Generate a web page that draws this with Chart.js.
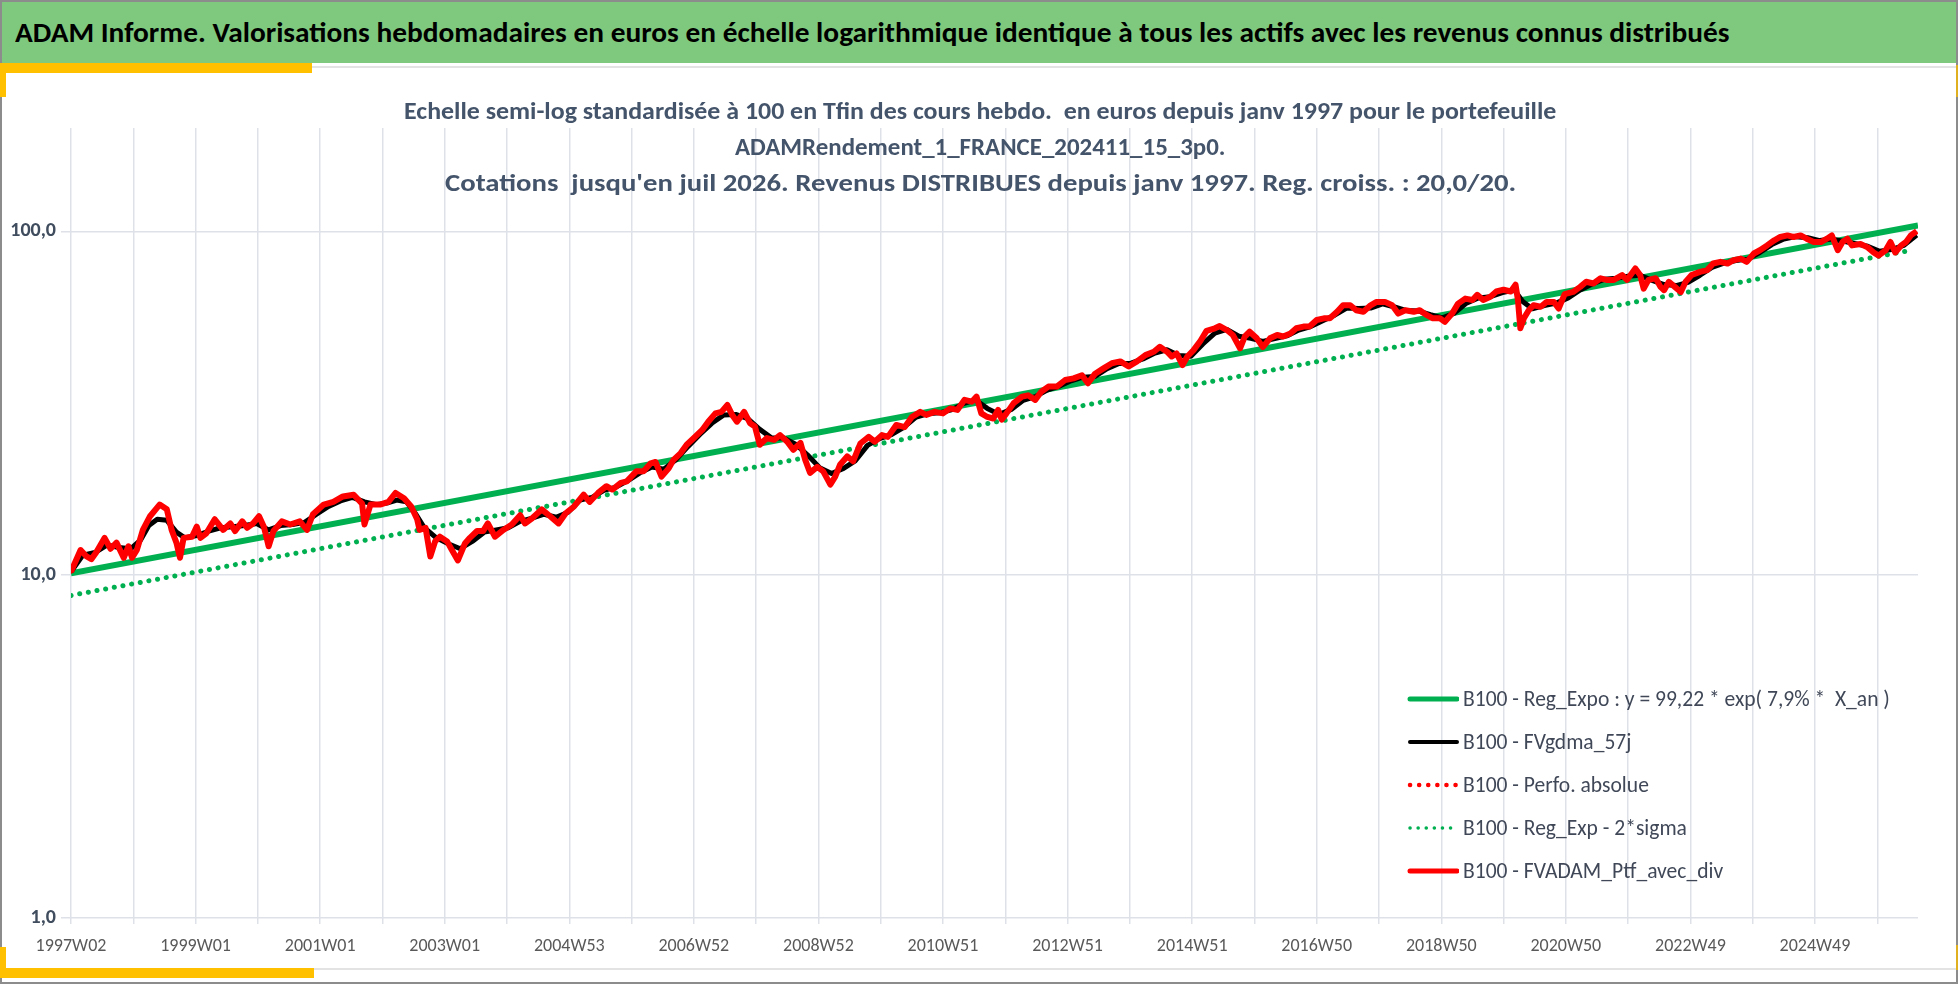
<!DOCTYPE html>
<html>
<head>
<meta charset="utf-8">
<script src="https://cdn.jsdelivr.net/npm/chart.js@4.4.1/dist/chart.umd.min.js"></script>
<style>
    body { margin: 0; width: 1958px; height: 984px; position: relative; overflow: hidden; background: #fff; }
    .f { font-family: Carlito, 'Liberation Sans Narrow', 'DejaVu Sans Condensed', 'Liberation Sans', sans-serif; }
    .abs { position: absolute; }
    .txt { position: absolute; white-space: pre; display: inline-block; line-height: 1; }
    #banner { left: 0; top: 0; width: 1958px; height: 63px; background: #7FC97F; border-top: 2px solid #8c8c8c; box-sizing: border-box; }
    .ttl { color: #44546A; font-weight: bold; font-size: 24px; }
    .leg { color: #404858; font-size: 22px; }
</style>
</head>
<body>
<div id="banner" class="abs"></div>
<span id="bannerText" class="txt f" style="left:15px;top:18px;font-size:29px;font-weight:bold;color:#000">ADAM Informe. Valorisations hebdomadaires en euros en échelle logarithmique identique à tous les actifs avec les revenus connus distribués</span>

<!-- frame -->
<div class="abs" style="left:0;top:66px;width:1958px;height:2px;background:#e3e3e3"></div>
<div class="abs" style="left:0;top:968px;width:1958px;height:2px;background:#e3e3e3"></div>
<div class="abs" style="left:0;top:0;width:2px;height:984px;background:#8c8c8c"></div>
<div class="abs" style="right:0;top:0;width:2px;height:984px;background:#8c8c8c"></div>
<div class="abs" style="left:0;bottom:0;width:1958px;height:2px;background:#8c8c8c"></div>
<div class="abs" style="left:0;top:63px;width:312px;height:10px;background:#FFC000"></div>
<div class="abs" style="left:0;top:63px;width:6px;height:34px;background:#FFC000"></div>
<div class="abs" style="left:0;top:968px;width:314px;height:10px;background:#FFC000"></div>
<div class="abs" style="left:0;top:947px;width:6px;height:31px;background:#FFC000"></div>
<div class="abs" style="right:0;top:65px;width:2px;height:32px;background:#E0B020"></div>
<div class="abs" style="right:0;top:945px;width:2px;height:25px;background:#E0B020"></div>

<canvas id="chart" width="1958" height="984" style="position:absolute;left:0;top:0"></canvas>

<span id="t1" class="txt f ttl">Echelle semi-log standardisée à 100 en Tfin des cours hebdo.  en euros depuis janv 1997 pour le portefeuille</span>
<span id="t2" class="txt f ttl">ADAMRendement_1_FRANCE_202411_15_3p0.</span>
<span id="t3" class="txt f ttl">Cotations  jusqu'en juil 2026. Revenus DISTRIBUES depuis janv 1997. Reg. croiss. : 20,0/20.</span>

<div id="legend"></div>

<script>
    "use strict";

    // week index 0 = 1997W02
    const tickLabels = ['1997W02', '1999W01', '2001W01', '2003W01', '2004W53', '2006W52', '2008W52', '2010W51',
        '2012W51', '2014W51', '2016W50', '2018W50', '2020W50', '2022W49', '2024W49'];
    const yTicks = [1, 10, 100];
    const lastWeek = 1542;

    const seriesNames = ['B100 - Reg_Expo : y = 99,22 * exp( 7,9% *  X_an )', 'B100 - FVgdma_57j', 'B100 - Perfo. absolue',
        'B100 - Reg_Exp - 2*sigma', 'B100 - FVADAM_Ptf_avec_div'];

    const regWeeks = [0, 1542];
    const regValues = [10.1, 104.0];

    const sigmaWeeks = [0, 1537];
    const sigmaValues = [8.7, 88.2];

    const redWeeks = [0, 8, 13, 17, 21, 28, 33, 38, 44, 48, 51, 55, 60, 66, 74, 80, 84, 88, 91, 94, 101, 105, 108, 113, 120, 127, 133, 137, 143, 147,
        152, 157, 161, 165, 169, 176, 183, 191, 197, 202, 211, 219, 227, 236, 243, 245, 250, 258, 265, 271, 278, 284, 289, 291, 296, 300, 304, 308, 314, 318, 323,
        329, 333, 339, 344, 348, 354, 361, 368, 375, 379, 385, 393, 400, 407, 413, 420, 428, 433, 440, 447, 452, 459, 464, 472, 478, 484, 488, 493, 499, 503,
        509, 514, 520, 527, 532, 538, 543, 548, 552, 556, 562, 567, 571, 575, 581, 587, 592, 598, 603, 609, 613, 617, 623, 628, 634, 638, 642,
        648, 653, 659, 666, 671, 677, 682, 689, 696, 702, 709, 714, 721, 728, 734, 740, 746, 752, 756, 760, 765, 770, 774, 777, 781, 787, 794, 799, 805, 810,
        816, 823, 830, 837, 844, 849, 855, 862, 869, 876, 883, 890, 897, 904, 909, 915, 919, 923, 928, 932, 937, 943, 948, 955, 959,
        965, 970, 976, 980, 984, 990, 995, 1001, 1007, 1012, 1018, 1023, 1029, 1034, 1040, 1046, 1051, 1057, 1062, 1068, 1073, 1079, 1085, 1090, 1097, 1103, 1108, 1114, 1121, 1126,
        1132, 1137, 1143, 1147, 1153, 1158, 1164, 1170, 1174, 1179, 1185, 1190, 1196, 1202, 1206, 1208, 1210, 1213, 1217, 1221, 1227, 1232, 1238, 1242,
        1247, 1254, 1260, 1265, 1271, 1277, 1282, 1288, 1295, 1299, 1306, 1310, 1313, 1317, 1323, 1327, 1330, 1334, 1339, 1344, 1348, 1353, 1360, 1366, 1371, 1377, 1383, 1388, 1394, 1399,
        1405, 1410, 1416, 1422, 1427, 1433, 1438, 1444, 1449, 1455, 1461, 1466, 1470, 1475, 1479, 1483, 1487, 1494, 1500, 1505, 1509, 1515, 1519, 1523, 1528, 1532, 1536, 1541];
    const redValues = [10.2, 11.8, 11.3, 11.1, 11.6, 12.8, 11.9, 12.4, 11.2, 12.1, 11.2, 11.8, 13.5, 14.8, 16.0, 15.5, 13.5, 12.4, 11.2, 12.8, 12.9, 13.8, 12.8, 13.2, 14.5, 13.5, 14.1, 13.4, 14.3, 13.7,
        14.1, 14.8, 13.8, 12.1, 13.4, 14.3, 14.0, 14.3, 13.5, 15.0, 16.0, 16.3, 16.9, 17.1, 16.1, 14.0, 16.0, 16.0, 16.3, 17.3, 16.7, 15.8, 14.5, 13.5, 13.7, 11.3, 12.5, 12.9, 12.5, 11.8, 11.0,
        12.35, 12.8, 13.4, 13.4, 14.1, 12.9, 13.5, 14.0, 14.9, 14.1, 14.6, 15.5, 14.8, 14.1, 15.1, 15.8, 17.1, 16.3, 17.3, 18.1, 17.7, 18.5, 18.7, 20.0, 20.0, 21.1, 21.3, 19.3, 20.4, 21.6,
        22.6, 23.9, 25.0, 26.4, 27.9, 29.5, 29.8, 31.2, 29.2, 27.9, 29.8, 27.6, 27.0, 23.9, 25.0, 24.7, 25.5, 24.4, 23.1, 24.2, 21.6, 19.8, 20.6, 20.0, 18.3, 19.3, 20.9,
        22.1, 21.4, 24.1, 25.2, 24.4, 25.5, 25.2, 27.3, 26.9, 28.8, 29.8, 29.2, 29.8, 29.5, 30.5, 30.2, 32.3, 31.9, 33.0, 29.5, 28.8, 28.5, 30.2, 28.3, 29.5, 31.6, 33.0, 33.3, 32.3, 34.1,
        35.3, 35.3, 36.9, 37.3, 38.1, 36.1, 38.5, 39.9, 41.3, 41.8, 40.4, 41.8, 43.6, 44.6, 46.1, 44.6, 43.2, 44.1, 40.8, 43.2, 45.0, 48.0, 51.3, 52.2, 53.0,
        51.6, 49.9, 45.6, 49.4, 51.0, 48.8, 46.0, 48.8, 49.9, 49.4, 50.4, 52.2, 52.8, 52.8, 55.2, 55.8, 55.8, 58.3, 60.9, 60.9, 58.9, 58.3, 60.9, 62.3, 62.3, 60.9, 57.6, 58.9, 58.3, 58.9,
        57.0, 55.8, 55.8, 54.5, 57.6, 61.6, 63.7, 63.1, 65.3, 63.1, 64.5, 66.8, 67.6, 66.8, 69.9, 63.1, 52.2, 55.8, 58.9, 60.9, 60.3, 62.3, 62.3, 59.6,
        65.6, 66.6, 68.9, 71.3, 70.5, 73.0, 72.2, 72.2, 74.6, 72.2, 78.0, 74.6, 68.1, 72.2, 73.0, 68.9, 67.4, 71.3, 68.9, 66.6, 71.3, 74.6, 76.2, 77.1, 80.6, 81.5, 80.6, 82.4, 83.3, 81.5,
        86.2, 88.1, 91.0, 94.2, 96.3, 97.3, 96.3, 97.3, 95.2, 93.1, 93.1, 95.2, 97.3, 88.1, 93.1, 95.2, 91.0, 91.9, 89.8, 86.8, 85.0, 88.1, 93.1, 86.8, 91.0, 93.1, 97.3, 100.2];

    const blackWeeks = [0, 10, 20, 30, 40, 50, 58, 65, 72, 80, 88, 95, 105, 115, 125, 135, 145, 155, 165, 175, 185, 195, 205, 215, 225, 235, 245, 255, 265, 272,
        280, 288, 295, 305, 315, 325, 335, 345, 355, 365, 375, 385, 395, 405, 415, 425, 435, 445, 455, 465, 475, 485, 495, 505, 515, 525, 535, 545, 555, 565,
        575, 585, 595, 605, 615, 625, 635, 645, 655, 665, 675, 685, 695, 705, 715, 725, 735, 745, 755, 765, 775, 785, 795, 805, 815, 825, 835, 845, 855, 865,
        875, 885, 895, 905, 915, 925, 935, 945, 955, 965, 975, 985, 995, 1005, 1015, 1025, 1035, 1045, 1055, 1065, 1075, 1085, 1095, 1105, 1115, 1125, 1135, 1145, 1155, 1165,
        1175, 1185, 1195, 1205, 1212, 1220, 1230, 1240, 1250, 1260, 1270, 1280, 1290, 1300, 1310, 1320, 1330, 1340, 1350, 1360, 1370, 1380, 1390, 1400, 1410, 1420, 1430, 1440, 1450, 1460,
        1470, 1480, 1490, 1500, 1510, 1520, 1530, 1541];
    const blackValues = [10.2, 11.4, 11.6, 12.2, 12.0, 11.9, 12.6, 13.9, 14.5, 14.4, 13.3, 12.8, 13.0, 13.4, 13.7, 13.8, 13.9, 14.1, 13.5, 13.9, 14.0, 14.2, 15.0, 15.8, 16.4, 16.8, 16.3, 16.0, 16.2, 16.5,
        16.3, 15.0, 13.7, 12.8, 12.3, 11.9, 12.5, 13.3, 13.5, 13.7, 14.3, 14.6, 15.0, 14.7, 15.2, 16.5, 16.8, 17.6, 18.0, 18.8, 19.8, 20.6, 20.3, 21.6, 23.6, 25.6, 27.6, 29.2, 29.3, 28.5,
        26.5, 25.0, 25.0, 24.0, 22.3, 20.5, 19.7, 20.4, 21.5, 23.8, 24.9, 25.6, 26.8, 28.7, 29.4, 29.6, 30.2, 31.5, 32.3, 30.5, 29.3, 30.3, 32.2, 33.0, 34.5, 35.4, 36.7, 37.6, 37.8, 39.8,
        41.2, 41.3, 42.5, 44.2, 45.2, 43.5, 43.3, 47.0, 50.5, 51.8, 49.5, 48.8, 47.8, 48.7, 49.6, 51.6, 52.8, 54.9, 57.0, 59.8, 59.6, 59.8, 61.5, 60.2, 58.8, 58.6, 57.2, 56.0, 57.8, 61.8,
        64.0, 64.5, 66.3, 67.5, 62.5, 59.5, 60.8, 61.8, 64.0, 67.5, 70.3, 72.5, 73.0, 74.0, 74.5, 72.0, 70.0, 69.5, 71.0, 74.5, 78.5, 80.8, 82.2, 83.0, 86.8, 91.5, 95.0, 96.5, 95.8, 94.0,
        95.0, 93.5, 92.0, 90.5, 87.5, 88.5, 91.0, 97.5];

    const fontStack = "Carlito, 'Liberation Sans Narrow', 'DejaVu Sans Condensed', 'Liberation Sans', sans-serif";
    const green = '#00B050';
    const red = '#FF0000';

    function pairs(xs, ys) {
        return xs.map((x, i) => ({ x: x, y: ys[i] }));
    }

    //Chart
    Chart.defaults.font.family = fontStack;
    Chart.defaults.plugins.legend.display = false;
    Chart.defaults.plugins.tooltip.enabled = false;

    var ctx = document.getElementById('chart').getContext('2d');
    var chart = new Chart(ctx, {
        type: 'line',
        data: {
            datasets: [{
                label: seriesNames[4],
                data: pairs(redWeeks, redValues),
                borderColor: red,
                borderWidth: 6,
                order: 1
            }, {
                label: seriesNames[2],
                data: pairs(redWeeks, redValues),
                borderColor: red,
                borderWidth: 4,
                borderDash: [0.1, 9],
                borderCapStyle: 'round',
                order: 2
            }, {
                label: seriesNames[1],
                data: pairs(blackWeeks, blackValues),
                borderColor: '#000000',
                borderWidth: 5,
                order: 3
            }, {
                label: seriesNames[3],
                data: pairs(sigmaWeeks, sigmaValues),
                borderColor: green,
                borderWidth: 5,
                borderDash: [0.1, 8.7],
                borderCapStyle: 'round',
                order: 4
            }, {
                label: seriesNames[0],
                data: pairs(regWeeks, regValues),
                borderColor: green,
                borderWidth: 6,
                order: 5
            }]
        },
        options: {
            responsive: false,
            animation: false,
            devicePixelRatio: 1,
            elements: {
                point: { radius: 0 },
                line: { tension: 0, borderJoinStyle: 'round' }
            },
            layout: {
                padding: { top: 128, right: 40, bottom: 16, left: 0 }
            },
            scales: {
                x: {
                    type: 'linear',
                    min: 0,
                    max: lastWeek,
                    afterBuildTicks: (scale) => {
                        let t = [];
                        for (let w = 0; w <= lastWeek; w += 52) t.push({ value: w });
                        scale.ticks = t;
                    },
                    afterFit: (scale) => { scale.height = 50; },
                    border: { display: false },
                    grid: { color: '#DEE1E7', lineWidth: 1.5, tickLength: 6 },
                    ticks: {
                        autoSkip: false,
                        maxRotation: 0,
                        padding: 12,
                        color: '#595959',
                        font: { size: 18 },
                        callback: (value) => value % 104 === 0 ? tickLabels[value / 104] : ''
                    }
                },
                y: {
                    type: 'logarithmic',
                    min: 1,
                    max: 200,
                    afterBuildTicks: (scale) => {
                        scale.ticks = yTicks.map(v => ({ value: v, major: true }));
                    },
                    afterFit: (scale) => { scale.width = 71; },
                    border: { display: false },
                    grid: { color: '#DEE1E7', lineWidth: 1.5, tickLength: 10 },
                    ticks: {
                        padding: 5,
                        color: '#404D5E',
                        font: { size: 20, weight: 'bold' },
                        callback: (value) => Number(value).toFixed(1).replace('.', ',')
                    }
                }
            }
        }
    });

    //Legend (html, placed inside the plot area like the original)
    const legendRows = [
        { name: seriesNames[0], color: green, width: 5, dash: '' },
        { name: seriesNames[1], color: '#000000', width: 4, dash: '' },
        { name: seriesNames[2], color: red, width: 4.5, dash: '0.1 9' },
        { name: seriesNames[3], color: green, width: 3.5, dash: '0.1 8' },
        { name: seriesNames[4], color: red, width: 5, dash: '' }
    ];
    const legendEl = document.getElementById('legend');
    legendRows.forEach((r, i) => {
        let cy = 699 + i * 43;
        let svg = document.createElementNS('http://www.w3.org/2000/svg', 'svg');
        svg.setAttribute('width', '52');
        svg.setAttribute('height', '12');
        svg.style.position = 'absolute';
        svg.style.left = '1407px';
        svg.style.top = (cy - 6) + 'px';
        let line = document.createElementNS('http://www.w3.org/2000/svg', 'line');
        line.setAttribute('x1', '3');
        line.setAttribute('x2', '50');
        line.setAttribute('y1', '6');
        line.setAttribute('y2', '6');
        line.setAttribute('stroke', r.color);
        line.setAttribute('stroke-width', r.width);
        line.setAttribute('stroke-linecap', 'round');
        if (r.dash) line.setAttribute('stroke-dasharray', r.dash);
        svg.appendChild(line);
        legendEl.appendChild(svg);

        let span = document.createElement('span');
        span.className = 'txt f leg legtxt';
        span.textContent = r.name;
        span.style.left = '1463px';
        span.style.top = (cy - 11) + 'px';
        legendEl.appendChild(span);
    });

    //Stretch the texts to the widths of the original (Calibri like font)
    function fitText(el, target, centerX) {
        let w = el.offsetWidth;
        let k = target / w;
        el.style.transformOrigin = '0 50%';
        el.style.transform = 'scaleX(' + k + ')';
        if (centerX !== undefined) el.style.left = (centerX - target / 2) + 'px';
        return k;
    }

    function layoutTexts() {
        fitText(document.getElementById('bannerText'), 1715);

        const titleY = [111, 147, 183];
        const titleW = [1152, 490, 1071];
        ['t1', 't2', 't3'].forEach((id, i) => {
            let el = document.getElementById(id);
            el.style.top = (titleY[i] - 12) + 'px';
            fitText(el, titleW[i], 980);
        });

        let legTexts = document.querySelectorAll('.legtxt');
        let k = 427 / legTexts[0].offsetWidth;
        legTexts.forEach(el => {
            el.style.transformOrigin = '0 50%';
            el.style.transform = 'scaleX(' + k + ')';
        });
    }
    layoutTexts();
    if (document.fonts) document.fonts.ready.then(layoutTexts);
</script>
</body>
</html>
